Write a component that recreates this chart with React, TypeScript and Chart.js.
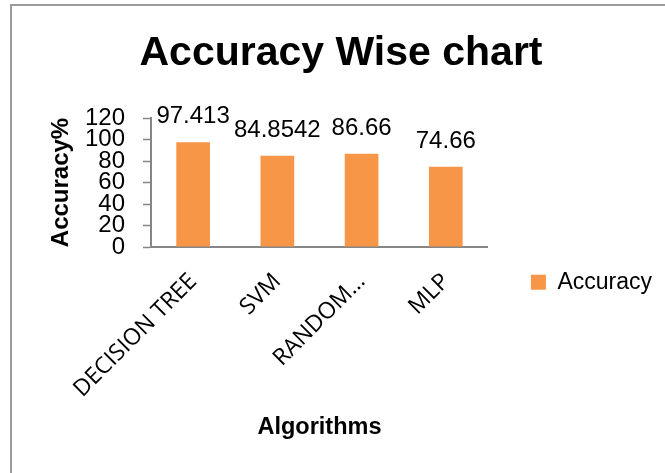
import React, { useEffect, useRef } from "react";
import { Chart, registerables } from "chart.js";

Chart.register(...registerables);

// ---- data ----
const categories = ["DECISION TREE", "SVM", "RANDOM…", "MLP"];
const accuracy = [97.413, 84.8542, 86.66, 74.66];
const seriesName = "Accuracy";
const yMin = 0;
const yMax = 120;
const yStep = 20;
const chartTitle = "Accuracy Wise chart";
const yTitle = "Accuracy%";
const xTitle = "Algorithms";

const SANS = '"Liberation Sans", Arial, sans-serif';
const LABEL = '"Open Sans", "Liberation Sans", sans-serif';
const BAR = "#F79646";
const AXIS = "#868686";

const PAD_L = 20;
const PAD_R = 3;

const valueLabels = {
  id: "valueLabels",
  afterDatasetsDraw(chart: any) {
    const { ctx } = chart;
    const meta = chart.getDatasetMeta(0);
    const data = chart.data.datasets[0].data;
    ctx.save();
    ctx.font = `24px ${SANS}`;
    ctx.fillStyle = "#000";
    ctx.textAlign = "center";
    ctx.textBaseline = "alphabetic";
    meta.data.forEach((bar: any, i: number) => {
      ctx.fillText(String(data[i]), bar.x, bar.y - 19);
    });
    ctx.restore();
  },
};

export default function App() {
  const ref = useRef<HTMLCanvasElement | null>(null);

  useEffect(() => {
    if (!ref.current) return;
    const chart = new Chart(ref.current, {
      type: "bar",
      data: {
        labels: categories,
        datasets: [
          {
            label: seriesName,
            data: accuracy,
            backgroundColor: BAR,
            borderWidth: 0,
            barPercentage: 0.4,
            categoryPercentage: 1,
          },
        ],
      },
      options: {
        animation: false,
        responsive: false,
        maintainAspectRatio: false,
        events: [],
        layout: { padding: { left: PAD_L, right: PAD_R, top: 0, bottom: 0 } },
        scales: {
          x: {
            grid: { display: false, drawTicks: false },
            border: { display: true, color: AXIS, width: 2 },
            ticks: {
              color: "#000",
              font: { family: LABEL, size: 23 },
              minRotation: 45,
              maxRotation: 45,
              padding: 21,
              autoSkip: false,
            },
            title: {
              display: true,
              text: xTitle,
              color: "#000",
              font: { family: SANS, size: 23.5, weight: "bold" },
              padding: { top: 0, bottom: 30.9 },
            },
            afterFit(s: any) {
              s.height = 226;
            },
          },
          y: {
            min: yMin,
            max: yMax,
            ticks: {
              stepSize: yStep,
              autoSkip: false,
              color: "#000",
              font: { family: SANS, size: 24 },
              padding: 18,
            },
            grid: {
              drawOnChartArea: false,
              drawTicks: true,
              tickLength: 8,
              color: AXIS,
              tickColor: AXIS,
              tickWidth: 1.5,
            },
            border: { display: true, color: AXIS, width: 2 },
            title: {
              display: true,
              text: yTitle,
              color: "#000",
              font: { family: SANS, size: 24, weight: "bold" },
              padding: { top: 27, bottom: 0 },
            },
            afterFit(s: any) {
              s.width = 151 - PAD_L;
            },
          },
        },
        plugins: {
          tooltip: { enabled: false },
          title: {
            display: true,
            text: chartTitle,
            color: "#000",
            font: { family: SANS, size: 41, weight: "bold" },
            padding: { top: 29.4, bottom: 39.4 },
          },
          legend: {
            position: "right",
            align: "center",
            maxWidth: 400,
            title: {
              display: true,
              text: "",
              font: { size: 12 },
              padding: { top: 77, bottom: 0 },
            },
            labels: {
              boxWidth: 15,
              boxHeight: 15,
              padding: 43,
              color: "#000",
              font: { family: SANS, size: 23 },
            },
          },
        },
      },
      plugins: [valueLabels],
    } as any);
    return () => chart.destroy();
  }, []);

  return (
    <div
      style={{
        position: "fixed",
        left: 0,
        top: 0,
        width: 665,
        height: 473,
        overflow: "hidden",
        background: "#fff",
      }}
    >
      <div
        style={{
          position: "absolute",
          left: 10,
          top: 4,
          width: 700,
          height: 520,
          borderLeft: "2px solid #9a9a9a",
          borderTop: "2px solid #9a9a9a",
        }}
      />
      <canvas
        ref={ref}
        width={665}
        height={473}
        style={{ position: "absolute", left: 0, top: 0, width: 665, height: 473 }}
      />
    </div>
  );
}
